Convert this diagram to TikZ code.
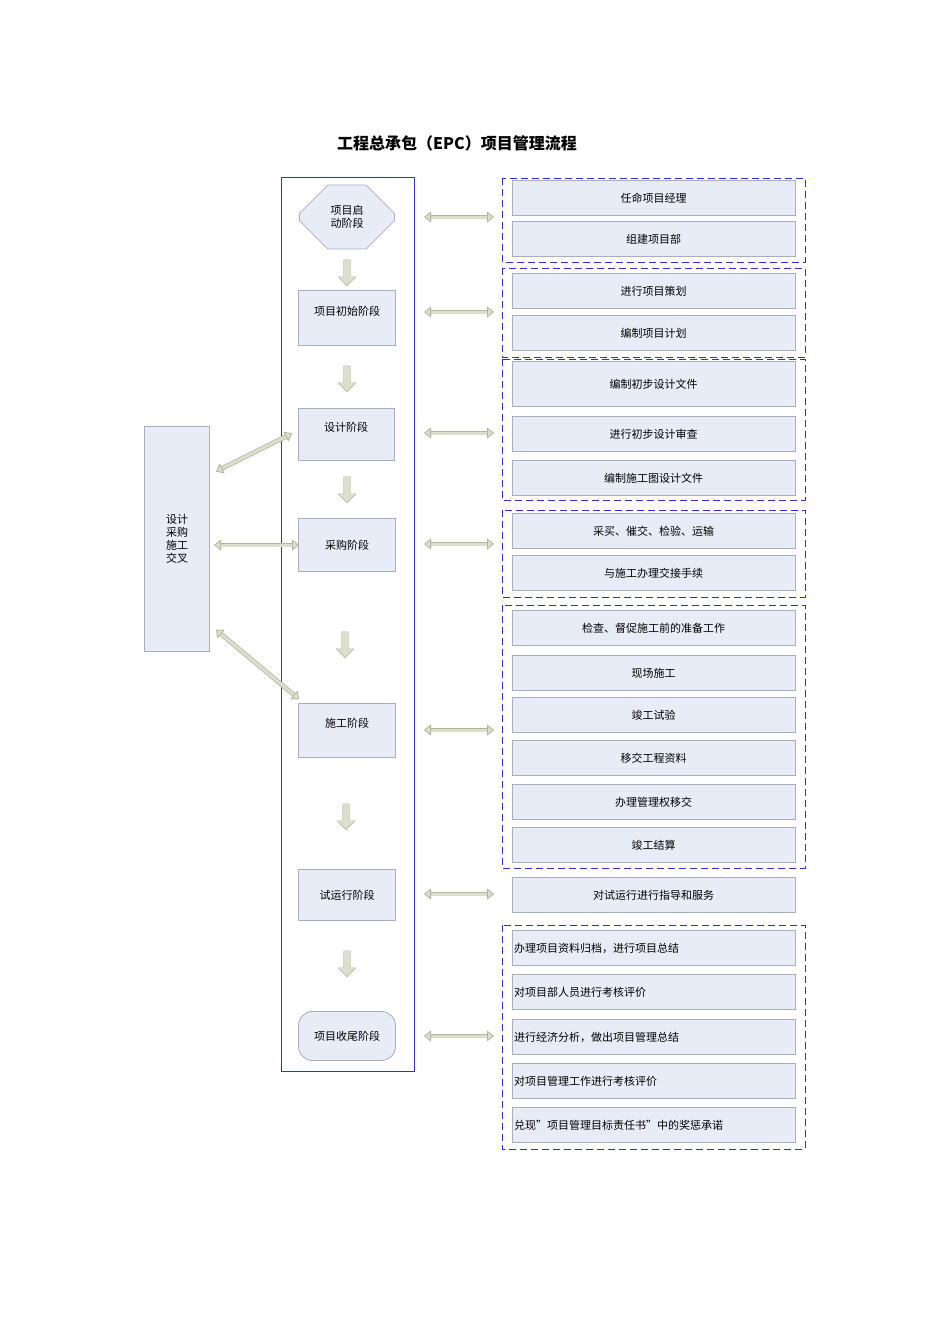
\documentclass[tikz,border=0pt]{standalone}
\usepackage{fontspec}
\setmainfont{Noto Sans CJK SC}
\usetikzlibrary{shapes.geometric,shapes.misc,shapes.arrows,arrows.meta,positioning}
\definecolor{bfill}{HTML}{E8ECF7}
\definecolor{bdraw}{HTML}{A8AEBE}
\definecolor{afill}{HTML}{DCDFCB}
\definecolor{adraw}{HTML}{B2B69E}
\definecolor{blu}{HTML}{3030D0}
\begin{document}
\begin{tikzpicture}[x=1pt,y=-1pt,
 box/.style={draw=bdraw,fill=bfill,line width=0.8pt,font=\fontsize{11}{13}\selectfont},
 rbox/.style={box,minimum width=283,minimum height=35,inner sep=2pt},
 grp/.style={draw=blu,dashed,dash pattern=on 7pt off 4pt,line width=1pt},
 darr/.style={draw=adraw,double=afill,double distance=3pt,line width=0.8pt,
   {Triangle[open,length=7pt,width=11pt,fill=afill]}-{Triangle[open,length=7pt,width=11pt,fill=afill]},shorten <=1pt,shorten >=1pt},
 down/.style={single arrow,draw=adraw,fill=afill,rotate=-90,minimum height=26,single arrow head extend=5pt,minimum width=18pt,inner sep=3pt}]
\useasboundingbox (0,0) rectangle (950,1344);
\node[font=\bfseries\fontsize{16}{18}\selectfont] (title) at (457,143) {工程总承包（EPC）项目管理流程};
\node[draw=blu,line width=1pt,minimum width=133,minimum height=894,anchor=north west] (main) at (281,177) {};
% left column
\node[box,chamfered rectangle,chamfered rectangle xsep=10pt,chamfered rectangle ysep=25pt,inner sep=2pt,
  minimum width=95,minimum height=51,align=center] (s1) at (347,217) {项目启\\动阶段};
\node[box,minimum width=97,minimum height=55,anchor=north] (s2) at (347,290) {};
\node at (347,311) [font=\fontsize{11}{13}\selectfont] {项目初始阶段};
\node[box,minimum width=96,minimum height=52,anchor=north] (s3) at (346,408) {};
\node at (346,427) [font=\fontsize{11}{13}\selectfont] {设计阶段};
\node[box,minimum width=97,minimum height=53] (s4) at (347,545) {采购阶段};
\node[box,minimum width=97,minimum height=54,anchor=north] (s5) at (347,703) {};
\node at (347,723) [font=\fontsize{11}{13}\selectfont] {施工阶段};
\node[box,minimum width=97,minimum height=51] (s6) at (347,895) {试运行阶段};
\node[box,rounded corners=14pt,minimum width=97,minimum height=49] (s7) at (347,1036) {项目收尾阶段};
\foreach \y/\x in {271/347,377/347,488/347,643/345,815/346,962/347}
  \node[down] at (\x,\y) {};
\node[box,minimum width=65,minimum height=225,align=center] (x) at (177,539) {设计\\采购\\施工\\交叉};
\coordinate (x1) at (215,472); \coordinate (y1) at (293,433);
\coordinate (x2) at (213,545); \coordinate (y2) at (300,545);
\coordinate (x3) at (215,629); \coordinate (y3) at (300,700);
\draw[darr] (x1) -- (y1);
\draw[darr] (x2) -- (y2);
\draw[darr] (x3) -- (y3);
% groups
\draw[grp] (502,178) rectangle (805,262);
\draw[grp] (502,268) rectangle (805,357);
\draw[grp] (502,359) rectangle (805,500);
\draw[grp] (502,510) rectangle (805,597);
\draw[grp] (502,605) rectangle (805,868);
\draw[grp] (502,925) rectangle (805,1149);
% right boxes
\foreach \n/\y/\t in {r1/198/任命项目经理,r2/239/组建项目部,r3/291/进行项目策划,r4/333/编制项目计划,
  r6/434/进行初步设计审查,r7/478/编制施工图设计文件,r8/531/采买、催交、检验、运输,r9/573/与施工办理交接手续,
  r10/628/检查、督促施工前的准备工作,r11/673/现场施工,r12/715/竣工试验,r13/758/移交工程资料,
  r14/802/办理管理权移交,r15/845/竣工结算,r16/895/对试运行进行指导和服务}
  \node[rbox] (\n) at (653.5,\y) {\t};
\node[rbox,minimum height=45] (r5) at (653.5,384) {编制初步设计文件};
\foreach \n/\y/\t in {q1/948/办理项目资料归档，进行项目总结,q2/992/对项目部人员进行考核评价,
  q3/1037/进行经济分析，做出项目管理总结,q4/1081/对项目管理工作进行考核评价,q5/1125/兑现”项目管理目标责任书”中的奖惩承诺}
  \node[rbox,text width=279,align=left] (\n) at (653.5,\y) {\t};
% horizontal arrows
\foreach \y in {217,312,433,544,730,894,1036}{
  \coordinate (a\y) at (423,\y); \coordinate (b\y) at (495,\y);
  \draw[darr] (a\y) -- (b\y);}
\end{tikzpicture}
\end{document}
